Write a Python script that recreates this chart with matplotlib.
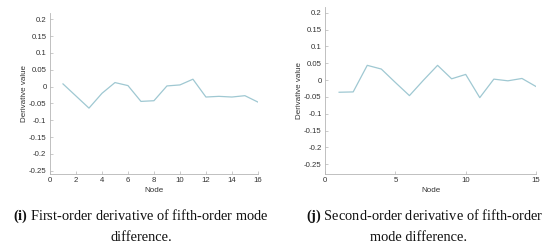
import matplotlib
matplotlib.use("Agg")
import matplotlib.pyplot as plt

plt.rcParams["mathtext.fontset"] = "custom"
plt.rcParams["mathtext.rm"] = "Liberation Serif"
plt.rcParams["mathtext.bf"] = "Liberation Serif:bold"

nodes_i = list(range(1, 17))
vals_i = [0.008, -0.028, -0.064, -0.020, 0.012, 0.003, -0.044, -0.042,
          0.002, 0.005, 0.022, -0.031, -0.029, -0.031, -0.027, -0.046]
nodes_j = list(range(1, 16))
vals_j = [-0.036, -0.035, 0.044, 0.033, -0.007, -0.046, 0.000, 0.044,
          0.004, 0.017, -0.052, 0.003, -0.002, 0.005, -0.019]

yticks = [0.2, 0.15, 0.1, 0.05, 0, -0.05, -0.1, -0.15, -0.2, -0.25]
ytick_labels = ["0.2", "0.15", "0.1", "0.05", "0", "-0.05", "-0.1", "-0.15", "-0.2", "-0.25"]
xticks_i = [0, 2, 4, 6, 8, 10, 12, 14, 16]
xticks_j = [0, 5, 10, 15]

caption_i = [r"$\mathbf{(i)}$ First-order derivative of fifth-order mode", "difference."]
caption_j = [r"$\mathbf{(j)}$ Second-order derivative of fifth-order", "mode difference."]

line_color = "#9fc8d2"
axis_color = "#b5b5b5"
text_color = "#333333"

fig = plt.figure(figsize=(5.5, 2.47), dpi=100)

def style(ax, xticks, xlim, ylim):
    ax.set_xlim(*xlim)
    ax.set_ylim(*ylim)
    ax.set_xticks(xticks)
    ax.set_yticks(yticks)
    ax.set_yticklabels(ytick_labels)
    for s in ["top", "right"]:
        ax.spines[s].set_visible(False)
    for s in ["left", "bottom"]:
        ax.spines[s].set_color(axis_color)
        ax.spines[s].set_linewidth(0.6)
    ax.tick_params(direction="in", length=2, width=0.5, color=axis_color,
                   labelsize=5.6, labelcolor=text_color, pad=2.5)
    for lab in ax.get_xticklabels() + ax.get_yticklabels():
        lab.set_family("Liberation Sans")
    ax.set_xlabel("Node", fontsize=5.8, color=text_color, labelpad=1.5, family="Liberation Sans")
    ax.set_ylabel("Derivative value", fontsize=5.8, color=text_color, labelpad=1, family="Liberation Sans")

ax1 = fig.add_axes([0.0909, 0.2955, 0.378, 0.6506])
ax1.plot(nodes_i, vals_i, color=line_color, lw=0.9)
style(ax1, xticks_i, (0, 16), (-0.26, 0.218))

ax2 = fig.add_axes([0.591, 0.2955, 0.3836, 0.677])
ax2.plot(nodes_j, vals_j, color=line_color, lw=0.9)
style(ax2, xticks_j, (0, 15), (-0.279, 0.218))

cap_kw = dict(ha="center", va="center", fontsize=10.4, family="Liberation Serif", color="#111111")
fig.text(141 / 550, 1 - 216 / 247, caption_i[0], **cap_kw)
fig.text(141 / 550, 1 - 237 / 247, caption_i[1], **cap_kw)
fig.text(425 / 550, 1 - 216 / 247, caption_j[0], **cap_kw)
fig.text(419 / 550, 1 - 237 / 247, caption_j[1], **cap_kw)

fig.savefig("out.png", dpi=100)
